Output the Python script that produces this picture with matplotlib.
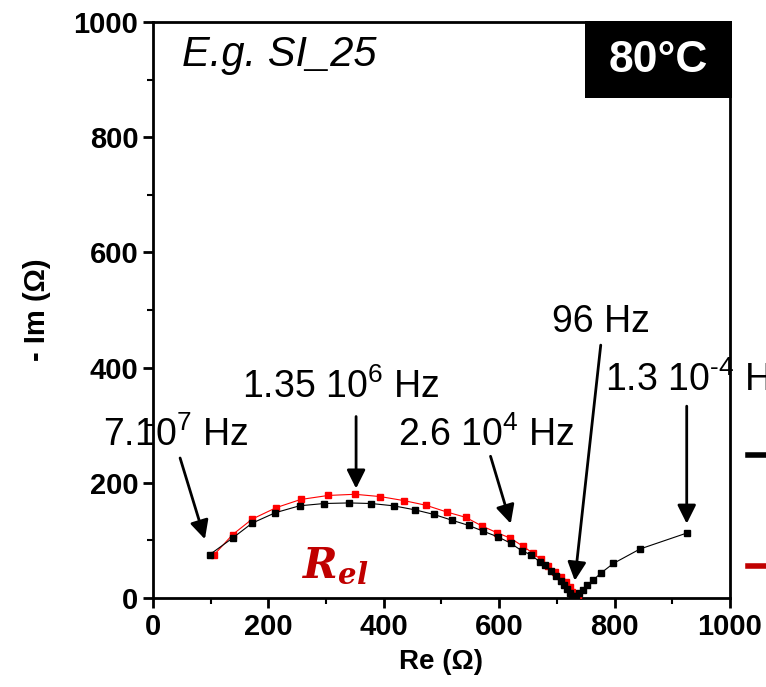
import matplotlib
matplotlib.use('Agg')
import matplotlib.pyplot as plt
from matplotlib.patches import Rectangle
from matplotlib.lines import Line2D
from matplotlib.ticker import MultipleLocator

# Nyquist data (Re, -Im in Ohm)
re_black = [98, 138, 172, 212, 254, 297, 340, 378, 417, 454, 487, 518, 547, 572, 598,
            620, 639, 655, 671, 680, 690, 698, 707, 713, 718, 723, 727, 733, 739, 745,
            752, 763, 776, 798, 844, 926]
im_black = [75, 104, 130, 148, 160, 164, 165, 164, 160, 153, 145, 135, 126, 116, 106,
            95, 82, 75, 62, 57, 46, 38, 30, 23, 15, 8, 3, 3, 8, 14,
            22, 31, 43, 60, 85, 113]

re_red = [106, 138, 172, 214, 256, 304, 350, 394, 435, 473, 510, 542, 570, 597, 619,
          641, 658, 672, 684, 696, 707, 715, 722, 727, 736]
im_red = [75, 110, 137, 157, 171, 178, 180, 176, 169, 161, 149, 140, 125, 113, 104,
          90, 78, 67, 56, 45, 36, 27, 19, 10, 3]

# frequency labels: text, text position, arrow start, arrow tip
freq_labels = ['7.10$^{7}$ Hz', '1.35 10$^{6}$ Hz', '2.6 10$^{4}$ Hz', '96 Hz',
               '1.3 10$^{\u20104}$ Hz']
label_xy = [(-87, 283), (155, 366), (425, 283), (691, 479), (783, 378)]
arrow_from = [(47, 243), (352, 315), (585, 246), (776, 439), (925, 333)]
arrow_to = [(90, 102), (352, 190), (620, 129), (731, 30), (925, 129)]

plt.rcParams['font.family'] = ['Liberation Sans Narrow', 'Liberation Sans', 'DejaVu Sans']
plt.rcParams['mathtext.fontset'] = 'custom'
plt.rcParams['mathtext.rm'] = 'Liberation Sans'
plt.rcParams['mathtext.default'] = 'regular'

fig = plt.figure(figsize=(7.66, 6.87), dpi=100)
ax = fig.add_axes([0.1997, 0.1296, 0.7533, 0.8384])

ax.plot(re_red, im_red, color='red', lw=0.8, marker='s', ms=5, mec='red', mfc='red', zorder=3)
ax.plot(re_black, im_black, color='black', lw=0.8, marker='s', ms=5, mec='black', mfc='black', zorder=4)

ax.set_xlim(0, 1000)
ax.set_ylim(0, 1000)
ax.xaxis.set_major_locator(MultipleLocator(200))
ax.xaxis.set_minor_locator(MultipleLocator(100))
ax.yaxis.set_major_locator(MultipleLocator(200))
ax.yaxis.set_minor_locator(MultipleLocator(100))
ax.tick_params(which='major', direction='out', length=7, width=2, labelsize=21)
ax.tick_params(which='minor', direction='out', length=4, width=1.5)
for lab in ax.get_xticklabels() + ax.get_yticklabels():
    lab.set_fontweight('bold')
for sp in ax.spines.values():
    sp.set_linewidth(2)

ax.set_xlabel('Re (Ω)', fontsize=20, fontweight='bold', labelpad=6)
ax.set_ylabel('- Im (Ω)', fontsize=21, fontweight='bold', labelpad=16)

for txt, pos, a0, a1 in zip(freq_labels, label_xy, arrow_from, arrow_to):
    ax.text(pos[0], pos[1], txt, fontsize=27, ha='left', va='center',
            family='Liberation Sans', clip_on=False, zorder=2)
    ax.annotate('', xy=a1, xytext=a0, annotation_clip=False,
                arrowprops=dict(arrowstyle='-|>', color='black', lw=2, mutation_scale=28,
                                shrinkA=0, shrinkB=0))

ax.text(316, 55, r'$\mathbfit{R}_{\mathbfit{el}}$', fontsize=30, color='#C00000',
        math_fontfamily='dejavuserif', ha='center', va='center')

ax.text(0.05, 0.942, 'E.g. SI_25', transform=ax.transAxes, fontsize=30,
        style='italic', ha='left', va='center')

# black temperature box over the top right corner
fig.add_artist(Rectangle((585 / 766, 1 - 98 / 687), 147 / 766, 77 / 687,
                         transform=fig.transFigure, facecolor='black', edgecolor='none', zorder=10))
fig.text(658 / 766, 1 - 60 / 687, '80°C', color='white', fontsize=32, fontweight='bold',
         ha='center', va='center', zorder=11)

# legend handles cut off at the right edge
fig.add_artist(Line2D([748 / 766, 1.0], [1 - 455 / 687] * 2, color='black', lw=4,
                      transform=fig.transFigure))
fig.add_artist(Line2D([748 / 766, 1.0], [1 - 566 / 687] * 2, color='#C00000', lw=4,
                      transform=fig.transFigure))

fig.savefig('out.png', dpi=100)
